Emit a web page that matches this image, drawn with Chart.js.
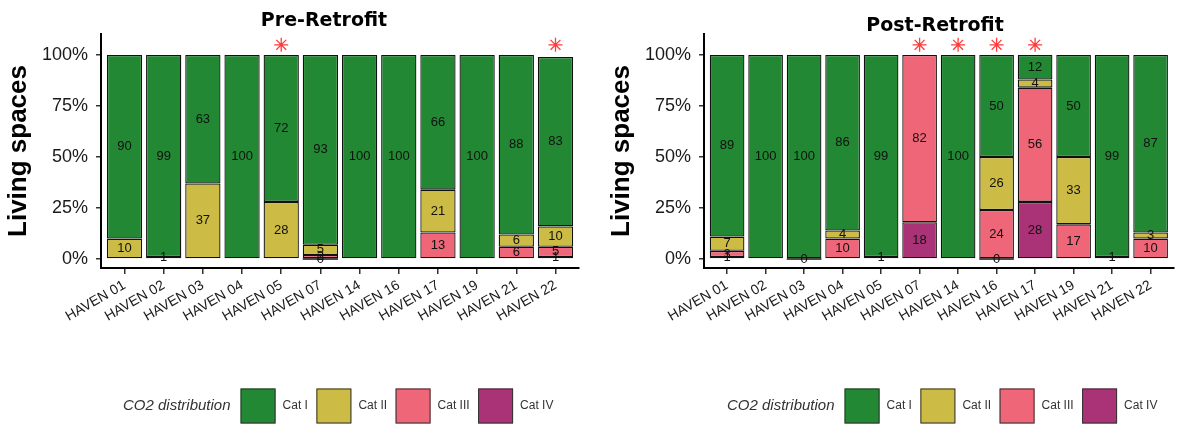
<!DOCTYPE html>
<html>
<head>
<meta charset="utf-8">
<title>CO2 distribution – Pre/Post Retrofit</title>
<script src="https://cdn.jsdelivr.net/npm/chart.js@4.4.1/dist/chart.umd.min.js"></script>
<style>
  html, body { margin: 0; padding: 0; background: #ffffff; }
  #wrap { position: relative; width: 1182px; height: 425px; overflow: hidden; }
  canvas { position: absolute; top: 0; }
  #pre { left: 0; }
  #post { left: 603px; }
</style>
</head>
<body>
<div id="wrap">
  <canvas id="pre" width="603" height="425"></canvas>
  <canvas id="post" width="579" height="425"></canvas>
</div>
<script>
// Buildings on the x axis
const categories = ['HAVEN 01', 'HAVEN 02', 'HAVEN 03', 'HAVEN 04', 'HAVEN 05', 'HAVEN 07',
                    'HAVEN 14', 'HAVEN 16', 'HAVEN 17', 'HAVEN 19', 'HAVEN 21', 'HAVEN 22'];
const catLabels = ['Cat I', 'Cat II', 'Cat III', 'Cat IV'];
const yTicks = [0, 25, 50, 75, 100];

// Share of living spaces (%) per CO2 category, before the retrofit
const preCatI   = [90, 99, 63, 100, 72, 93, 100, 100, 66, 100, 88, 83];
const preCatII  = [10, 1, 37, null, 28, 5, null, null, 21, null, 6, 10];
const preCatIII = [null, null, null, null, null, 2, null, null, 13, null, 6, 5];
const preCatIV  = [null, null, null, null, null, 0, null, null, null, null, null, 1];
const preFlagged = ['HAVEN 05', 'HAVEN 22'];

// Share of living spaces (%) per CO2 category, after the retrofit
const postCatI   = [89, 100, 100, 86, 99, null, 100, 50, 12, 50, 99, 87];
const postCatII  = [7, null, null, 4, 1, null, null, 26, 4, 33, null, 3];
const postCatIII = [3, null, null, 10, null, 82, null, 24, 56, 17, null, 10];
const postCatIV  = [1, null, 0, null, null, 18, null, 0, 28, null, 1, null];
const postFlagged = ['HAVEN 07', 'HAVEN 14', 'HAVEN 16', 'HAVEN 17'];

// Level (in %) at which flagged buildings get their marker
const flagLevel = 105;

const catColors = ['#228833', '#CCBB44', '#EE6677', '#AA3377'];
const SANS = '"Liberation Sans", Arial, sans-serif';

// Writes the rounded share in the middle of each stacked segment
const segmentLabels = {
  id: 'segmentLabels',
  afterDatasetsDraw(chart) {
    const ctx = chart.ctx;
    ctx.save();
    ctx.font = '13px ' + SANS;
    ctx.fillStyle = '#111111';
    ctx.textAlign = 'center';
    ctx.textBaseline = 'middle';
    chart.data.datasets.forEach((ds, i) => {
      if (ds.type !== 'bar') return;
      const meta = chart.getDatasetMeta(i);
      ds.data.forEach((pt, j) => {
        if (pt.y === null) return;
        const el = meta.data[j];
        if (!el || isNaN(el.y)) return;
        if (pt.y === 0) {
          // empty segment: outline collapses to a line
          ctx.strokeStyle = '#111111';
          ctx.lineWidth = 1.3;
          ctx.beginPath();
          ctx.moveTo(el.x - el.width / 2, el.base);
          ctx.lineTo(el.x + el.width / 2, el.base);
          ctx.stroke();
        }
        ctx.fillText(String(pt.y), el.x, (el.y + el.base) / 2);
      });
    });
    ctx.restore();
  }
};

// Panel title and the category key underneath the axis labels
const panelDecor = {
  id: 'panelDecor',
  afterDraw(chart, args, opts) {
    const ctx = chart.ctx;
    ctx.save();
    ctx.fillStyle = '#000000';
    ctx.font = 'bold 19px "DejaVu Sans", Verdana, sans-serif';
    ctx.textAlign = 'center';
    ctx.textBaseline = 'alphabetic';
    ctx.fillText(opts.title, opts.titleX, opts.titleY);

    // key
    let x = opts.keyX;
    const cy = opts.keyY;
    ctx.textAlign = 'left';
    ctx.textBaseline = 'middle';
    ctx.fillStyle = '#333333';
    ctx.font = 'italic 15px ' + SANS;
    ctx.fillText('CO2 distribution', x, cy);
    x += ctx.measureText('CO2 distribution').width + 10;
    ctx.font = '12px ' + SANS;
    catLabels.forEach((lab, k) => {
      ctx.fillStyle = catColors[k];
      ctx.fillRect(x, cy - 17.5, 35, 35);
      ctx.strokeStyle = '#333333';
      ctx.lineWidth = 1;
      ctx.strokeRect(x + 0.5, cy - 17, 34, 34);
      x += 35 + 7;
      ctx.fillStyle = '#333333';
      ctx.fillText(lab, x, cy);
      x += ctx.measureText(lab).width + 8.5;
    });
    ctx.restore();
  }
};

function buildChart(canvasId, series, flagged, decor, padRight) {
  const toPoints = (arr) => arr.map((v, i) => ({ x: i + 1, y: v }));
  // stacked bottom-up: Cat IV, Cat III, Cat II, Cat I
  const barSets = [3, 2, 1, 0].map(k => ({
    type: 'bar',
    label: catLabels[k],
    data: toPoints(series[k]),
    backgroundColor: catColors[k],
    borderColor: '#111111',
    borderWidth: 1.3,
    borderSkipped: false,
    inflateAmount: 0,
    stack: 'cats',
    barPercentage: 0.9,
    categoryPercentage: 1.0
  }));
  const flagSet = {
    type: 'scatter',
    label: 'flag',
    data: flagged.map(name => ({ x: categories.indexOf(name) + 1, y: flagLevel })),
    pointStyle: 'star',
    radius: 7,
    borderColor: '#ff3b3b',
    backgroundColor: '#ff3b3b',
    borderWidth: 1.3,
    stack: 'flags'
  };

  return new Chart(document.getElementById(canvasId), {
    data: { datasets: [...barSets, flagSet] },
    options: {
      responsive: false,
      animation: false,
      devicePixelRatio: 1,
      layout: { padding: { top: 34, right: padRight, bottom: 0, left: 0 } },
      plugins: {
        legend: { display: false },
        tooltip: { enabled: false },
        panelDecor: decor
      },
      scales: {
        x: {
          type: 'linear',
          min: 0.4,
          max: 12.6,
          offset: false,
          stacked: true,
          afterBuildTicks: (scale) => { scale.ticks = categories.map((c, i) => ({ value: i + 1 })); },
          afterFit: (scale) => { scale.height = 157; },
          ticks: {
            callback: (v) => categories[v - 1],
            autoSkip: false,
            minRotation: 30,
            maxRotation: 30,
            padding: 3,
            color: '#1a1a1a',
            font: { family: SANS, size: 14 }
          },
          grid: {
            display: true, drawOnChartArea: false, drawTicks: true, offset: false,
            tickLength: 6, color: '#333333', lineWidth: 1.5
          },
          border: { display: true, color: '#000000', width: 2 }
        },
        y: {
          type: 'linear',
          stacked: true,
          min: -4.4,
          max: 110.3,
          afterBuildTicks: (scale) => { scale.ticks = yTicks.map(v => ({ value: v })); },
          afterFit: (scale) => { scale.width = 101; },
          ticks: {
            callback: (v) => v + '%',
            padding: 8,
            color: '#1a1a1a',
            font: { family: SANS, size: 18 }
          },
          grid: {
            display: true, drawOnChartArea: false, drawTicks: true,
            tickLength: 5, color: '#333333', lineWidth: 1.5
          },
          border: { display: true, color: '#000000', width: 2 },
          title: {
            display: true,
            text: 'Living spaces',
            color: '#000000',
            font: { family: SANS, size: 26, weight: 'bold' },
            padding: { top: 3, bottom: 0 }
          }
        }
      }
    },
    plugins: [segmentLabels, panelDecor]
  });
}

buildChart('pre', [preCatI, preCatII, preCatIII, preCatIV], preFlagged,
  { title: 'Pre-Retrofit', titleX: 324, titleY: 26, keyX: 123, keyY: 406 }, 24);
buildChart('post', [postCatI, postCatII, postCatIII, postCatIV], postFlagged,
  { title: 'Post-Retrofit', titleX: 332, titleY: 31, keyX: 124, keyY: 406 }, 2);
</script>
</body>
</html>
